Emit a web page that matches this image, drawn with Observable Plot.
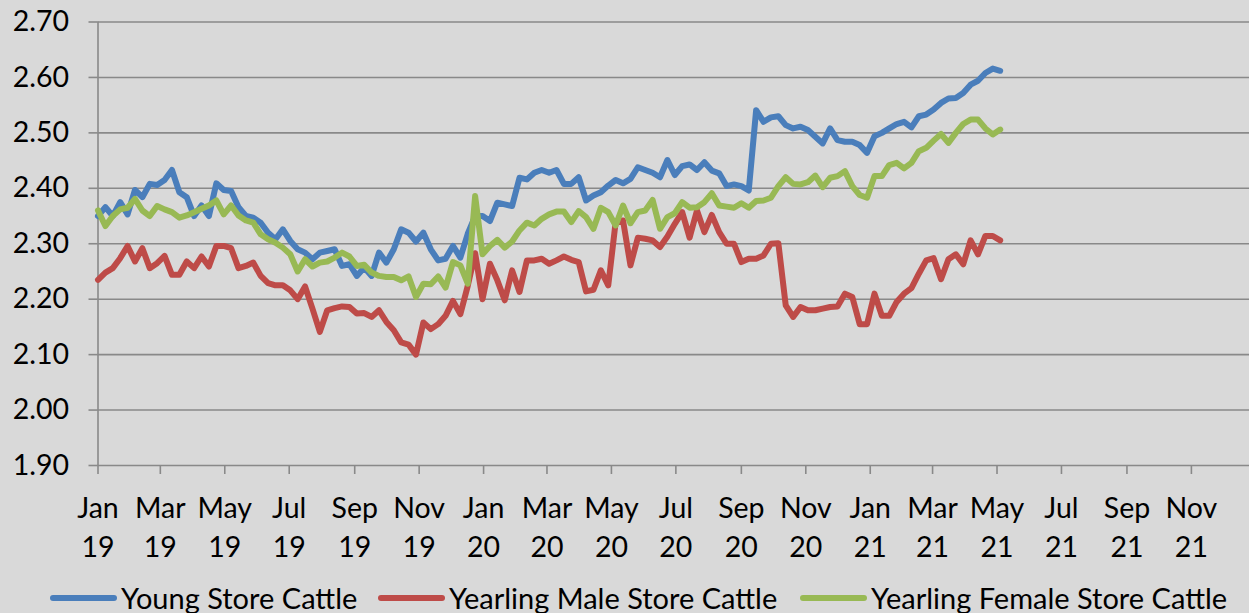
<!DOCTYPE html>
<html>
<head>
<meta charset="utf-8">
<script src="https://cdn.jsdelivr.net/npm/d3@7"></script>
<script src="https://cdn.jsdelivr.net/npm/@observablehq/plot@0.6"></script>
<style>
  html, body { margin: 0; padding: 0; background: #d9d9d9; overflow: hidden; }
  #wrap { position: relative; width: 1249px; height: 613px; font-family: Lato, "Open Sans", sans-serif; }
  #legend .item { position: absolute; top: 584px; height: 28px; display: flex; align-items: center; font-size: 29px; line-height: 28px; color: #000; white-space: nowrap; }
  #legend .sw { display: inline-block; width: 67px; height: 6px; border-radius: 3px; margin-right: 4px; }
</style>
</head>
<body>
<div id="wrap">
  <div id="chart"></div>
  <div id="legend"></div>
</div>
<script>
// ---- data ----
const seriesNames = ["Young Store Cattle", "Yearling Male Store Cattle", "Yearling Female Store Cattle"];
const seriesColors = ["#4a7ebb", "#be4b48", "#98b954"];
const startDate = "2019-01-01"; // first weekly observation
const youngStore = [
  2.350, 2.366, 2.350, 2.375, 2.353, 2.397, 2.384, 2.408, 2.406, 2.415, 2.433, 2.393, 2.384, 2.350, 2.369, 2.350, 2.409, 2.397, 2.395, 2.366, 2.350,
  2.347, 2.338, 2.320, 2.308, 2.326, 2.305, 2.290, 2.284, 2.272, 2.284, 2.287, 2.290, 2.260, 2.263, 2.242, 2.257, 2.242, 2.284, 2.266, 2.290, 2.326,
  2.320, 2.304, 2.320, 2.290, 2.270, 2.273, 2.296, 2.275, 2.318, 2.350, 2.350, 2.341, 2.374, 2.371, 2.368, 2.419, 2.416, 2.428, 2.433, 2.428, 2.433,
  2.408, 2.408, 2.420, 2.378, 2.387, 2.393, 2.405, 2.415, 2.409, 2.417, 2.438, 2.433, 2.428, 2.420, 2.451, 2.424, 2.440, 2.443, 2.433, 2.447, 2.432,
  2.427, 2.404, 2.407, 2.404, 2.396, 2.541, 2.520, 2.528, 2.530, 2.514, 2.508, 2.511, 2.505, 2.493, 2.481, 2.508, 2.487, 2.484, 2.484, 2.478, 2.464,
  2.494, 2.500, 2.508, 2.516, 2.520, 2.510, 2.530, 2.533, 2.542, 2.554, 2.562, 2.563, 2.572, 2.587, 2.594, 2.608, 2.616, 2.612
];
const yearlingMale = [
  2.235, 2.248, 2.256, 2.274, 2.296, 2.268, 2.292, 2.256, 2.265, 2.278, 2.244, 2.244, 2.268, 2.256, 2.277, 2.259, 2.296, 2.296, 2.292, 2.256, 2.260,
  2.266, 2.242, 2.229, 2.225, 2.225, 2.216, 2.200, 2.223, 2.183, 2.141, 2.180, 2.184, 2.187, 2.186, 2.174, 2.175, 2.168, 2.180, 2.159, 2.144, 2.122,
  2.118, 2.100, 2.158, 2.146, 2.155, 2.170, 2.197, 2.173, 2.224, 2.283, 2.200, 2.264, 2.234, 2.198, 2.252, 2.213, 2.270, 2.270, 2.273, 2.264, 2.270,
  2.277, 2.271, 2.267, 2.214, 2.217, 2.252, 2.225, 2.339, 2.342, 2.261, 2.311, 2.309, 2.306, 2.294, 2.313, 2.336, 2.357, 2.311, 2.360, 2.321, 2.352,
  2.321, 2.300, 2.300, 2.267, 2.273, 2.273, 2.279, 2.300, 2.301, 2.189, 2.168, 2.186, 2.180, 2.180, 2.183, 2.186, 2.187, 2.210, 2.204, 2.155, 2.155,
  2.210, 2.170, 2.170, 2.195, 2.210, 2.220, 2.246, 2.270, 2.274, 2.236, 2.272, 2.281, 2.263, 2.306, 2.281, 2.314, 2.314, 2.306
];
const yearlingFemale = [
  2.360, 2.332, 2.350, 2.362, 2.365, 2.381, 2.360, 2.350, 2.368, 2.362, 2.357, 2.347, 2.351, 2.357, 2.363, 2.369, 2.378, 2.353, 2.369, 2.351, 2.342,
  2.338, 2.317, 2.308, 2.302, 2.293, 2.281, 2.250, 2.272, 2.259, 2.266, 2.268, 2.275, 2.284, 2.277, 2.260, 2.262, 2.248, 2.242, 2.240, 2.240, 2.234,
  2.241, 2.204, 2.228, 2.227, 2.241, 2.221, 2.267, 2.261, 2.228, 2.386, 2.281, 2.296, 2.307, 2.293, 2.304, 2.324, 2.338, 2.333, 2.345, 2.353, 2.358,
  2.358, 2.339, 2.359, 2.348, 2.327, 2.365, 2.357, 2.333, 2.369, 2.337, 2.357, 2.360, 2.379, 2.327, 2.348, 2.355, 2.375, 2.365, 2.366, 2.375, 2.391,
  2.369, 2.367, 2.365, 2.373, 2.365, 2.377, 2.378, 2.383, 2.404, 2.420, 2.408, 2.407, 2.411, 2.423, 2.402, 2.419, 2.422, 2.431, 2.404, 2.388, 2.383,
  2.422, 2.422, 2.442, 2.446, 2.436, 2.446, 2.467, 2.473, 2.486, 2.498, 2.482, 2.500, 2.516, 2.524, 2.524, 2.508, 2.497, 2.506
];
const yTicks = [1.90, 2.00, 2.10, 2.20, 2.30, 2.40, 2.50, 2.60, 2.70];
const xTickStart = "2019-01-01", xTickEnd = "2021-11-30";
const xDomain = ["2019-01-01", "2021-12-26"];

// ---- build table ----
const t0 = new Date(startDate + "T00:00:00Z");
const allSeries = [youngStore, yearlingMale, yearlingFemale];
const rows = [];
allSeries.forEach((vals, s) => {
  vals.forEach((v, i) => {
    rows.push({ series: seriesNames[s], date: d3.utcDay.offset(t0, 7 * i), value: v });
  });
});
const xTicks = d3.utcMonth.every(2).range(new Date(xTickStart + "T00:00:00Z"), new Date(xTickEnd + "T00:00:00Z"));
const fmtMon = d3.utcFormat("%b"), fmtYr = d3.utcFormat("%y");
const axisGray = "#898989";

const chart = Plot.plot({
  width: 1249,
  height: 560,
  marginLeft: 97.5,
  marginRight: 0,
  marginTop: 21.5,
  marginBottom: 95,
  style: { background: "#d9d9d9", fontFamily: "Lato, 'Open Sans', sans-serif", fontSize: "28px", color: "#000", overflow: "visible" },
  x: { type: "utc", domain: xDomain.map(d => new Date(d + "T00:00:00Z")) },
  y: { domain: [yTicks[0], yTicks[yTicks.length - 1]] },
  color: { domain: seriesNames, range: seriesColors },
  marks: [
    Plot.gridY(yTicks, { stroke: axisGray, strokeOpacity: 1, strokeWidth: 1.6 }),
    Plot.ruleX([new Date(xDomain[0] + "T00:00:00Z")], { stroke: axisGray, strokeWidth: 1.6 }),
    Plot.axisY(yTicks, { tickFormat: d3.format(".2f"), tickSize: 9, tickPadding: 20, stroke: axisGray, strokeWidth: 1.6, label: null, fill: "#000", fontSize: 28.5 }),
    Plot.axisX(xTicks, { tickFormat: d => fmtMon(d) + "\n" + fmtYr(d), tickSize: 9, tickPadding: 16, lineHeight: 1.36, stroke: axisGray, strokeWidth: 1.6, label: null, fill: "#000", fontSize: 28.5 }),
    Plot.lineY(rows, { x: "date", y: "value", z: "series", stroke: "series", strokeWidth: 6, strokeLinejoin: "round", strokeLinecap: "round" })
  ]
});
document.getElementById("chart").appendChild(chart);

// ---- legend ----
const legendLeft = [50, 378, 800];
const legend = document.getElementById("legend");
seriesNames.forEach((name, i) => {
  const item = document.createElement("div");
  item.className = "item";
  item.style.left = legendLeft[i] + "px";
  const sw = document.createElement("span");
  sw.className = "sw";
  sw.style.background = seriesColors[i];
  item.appendChild(sw);
  item.appendChild(document.createTextNode(name));
  legend.appendChild(item);
});
</script>
</body>
</html>
